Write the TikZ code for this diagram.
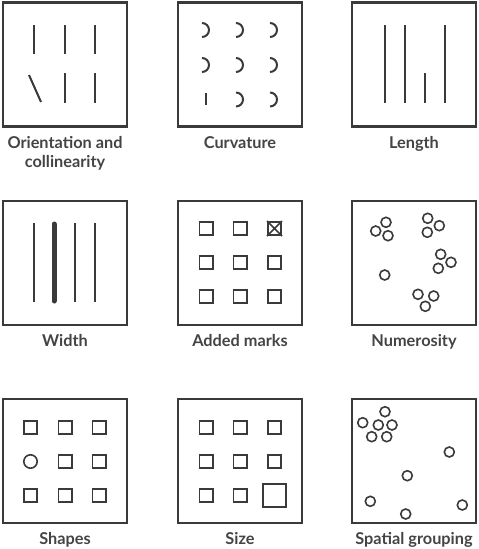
\documentclass[tikz,border=0pt]{standalone}
\usepackage{fontspec}
\setmainfont{Lato}
\usetikzlibrary{positioning}

\definecolor{ink}{HTML}{3A3A3A}
\definecolor{captext}{HTML}{444444}

\begin{document}
\begin{tikzpicture}[x=1pt,y=-1pt,
    panel/.style={draw=ink,line width=2.2pt,minimum size=124pt,inner sep=0pt},
    stroke/.style={draw=ink,line width=2pt},
    sq/.style={draw=ink,line width=1.8pt,minimum size=13.2pt,inner sep=0pt},
    dot/.style={circle,draw=ink,line width=1.6pt,minimum size=10pt,inner sep=0pt},
    caption/.style={anchor=base,text=captext,align=center,font=\bfseries\fontsize{16.3}{18.5}\selectfont}]

        \useasboundingbox (0,0) rectangle (479,549);

        % panels
        \node[panel] (p1) at (65,64.5)  {};
        \node[panel] (p2) at (240,64.5) {};
        \node[panel] (p3) at (414,64.5) {};
        \node[panel] (p4) at (65,263)   {};
        \node[panel] (p5) at (240,263)  {};
        \node[panel] (p6) at (414,263)  {};
        \node[panel] (p7) at (65,461)   {};
        \node[panel] (p8) at (240,461)  {};
        \node[panel] (p9) at (414,461)  {};

        % orientation
        \foreach \x in {34,65,95}
            \draw[stroke] (\x,25) -- (\x,54);
        \foreach \x in {65,95}
            \draw[stroke] (\x,73) -- (\x,103);
        \draw[stroke] (29,75) -- (41,102);

        % curvature
        \foreach \x in {236,270}
            \foreach \y in {30,65,99.5}
                \draw[stroke] (\x,\y-7) arc (-90:90:7);
        \foreach \y in {30,65}
            \draw[stroke] (202,\y-7) arc (-90:90:7);
        \draw[stroke] (205.5,93) -- (205.5,105);

        % length
        \foreach \x in {385,405,445}
            \draw[stroke] (\x,25) -- (\x,103);
        \draw[stroke] (425,73) -- (425,103);

        % width
        \foreach \x in {34,75,95}
            \draw[stroke] (\x,223) -- (\x,302);
        \draw[stroke,line width=5pt,line cap=round] (54,224) -- (54,301);

        % added marks
        \foreach \x [count=\i] in {206,240,274.5}
            \foreach \y [count=\j] in {228.5,262.5,296.5}
                \node[sq] (m-\i-\j) at (\x,\y) {};
        \draw[stroke,line width=1.6pt] (m-3-1.north west) -- (m-3-1.south east)
                                       (m-3-1.north east) -- (m-3-1.south west);

        % numerosity
        \foreach \pos [count=\i] in {(375.7,231),(386,222.3),(388,235.7),
                                     (427.7,218.3),(439.3,225.7),(427.3,232.3),
                                     (440.7,254.3),(451,262.3),(438.3,268.3),
                                     (384.7,275),
                                     (418,294.3),(433.7,296),(425.3,306.3)}
            \node[dot] (n\i) at \pos {};

        % shapes
        \foreach \x [count=\i] in {30.5,65,99}
            \foreach \y [count=\j] in {427.5,461.5,495.5}{
                \ifnum\i\j=12
                    \node[dot,minimum size=13.4pt] (s-\i-\j) at (\x,\y) {};
                \else
                    \node[sq] (s-\i-\j) at (\x,\y) {};
                \fi
            }

        % size
        \foreach \x [count=\i] in {206,240,274.5}
            \foreach \y [count=\j] in {427.5,461.5,495.5}{
                \ifnum\i\j=33
                    \node[sq,minimum size=23.2pt] (z-\i-\j) at (\x,\y) {};
                \else
                    \node[sq] (z-\i-\j) at (\x,\y) {};
                \fi
            }

        % spatial grouping
        \foreach \pos [count=\i] in {(385,411.7),(362.7,422.7),(378.3,425),(392,425),
                                     (371.7,436.7),(386.7,436.7),
                                     (449.3,452),(407.3,475.7),(370.3,501.3),
                                     (405.7,514),(462.3,505)}
            \node[dot] (g\i) at \pos {};

        % captions
        \node[caption] (l1) at (65,167)  {Orientation and\\collinearity};
        \node[caption] (l2) at (240,148) {Curvature};
        \node[caption] (l3) at (414,148) {Length};
        \node[caption] (l4) at (65,346)  {Width};
        \node[caption] (l5) at (240,346) {Added marks};
        \node[caption] (l6) at (414,346) {Numerosity};
        \node[caption] (l7) at (65,544)  {Shapes};
        \node[caption] (l8) at (240,544) {Size};
        \node[caption] (l9) at (414,544) {Spatial grouping};

\end{tikzpicture}
\end{document}
